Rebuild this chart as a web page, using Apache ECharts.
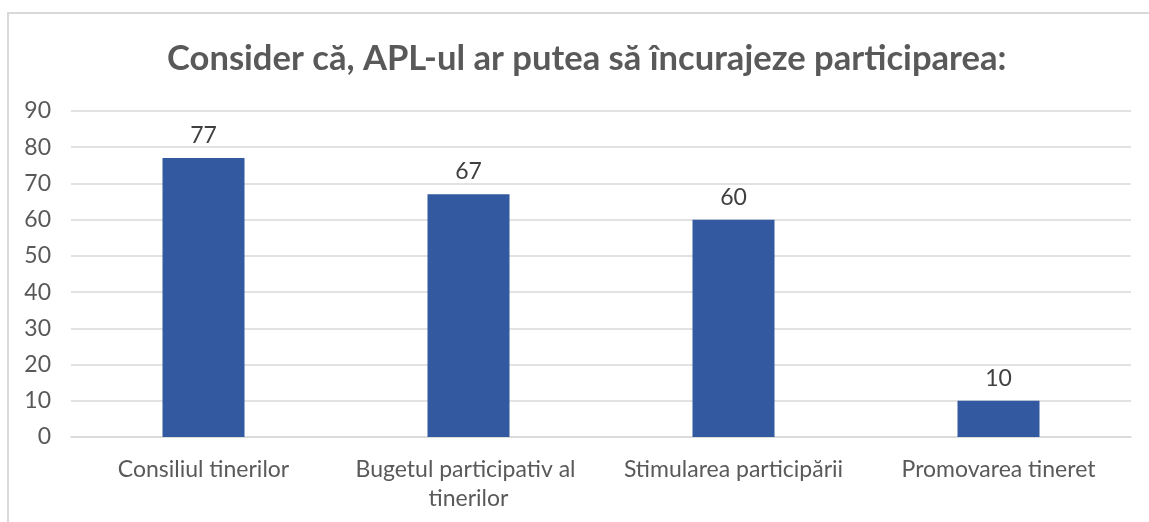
<!DOCTYPE html>
<html>
<head>
<meta charset="utf-8">
<script src="https://cdn.jsdelivr.net/npm/echarts@6/dist/echarts.min.js"></script>
<style>
  html, body { margin: 0; padding: 0; background: #fff; }
  #chart { position: absolute; left: 0; top: 0; width: 1149px; height: 522px; }
  #frame { position: absolute; left: 7px; top: 12px; width: 1160px; height: 530px;
           border-top: 2px solid #d9d9d9; border-left: 2px solid #d9d9d9; pointer-events: none; }
</style>
</head>
<body>
<div id="chart"></div>
<div id="frame"></div>
<script>
const title = 'Consider că, APL-ul ar putea să încurajeze participarea:'
const categories = ['Consiliul tinerilor', 'Bugetul participativ al tinerilor', 'Stimularea participării', 'Promovarea tineret']
const values = [77, 67, 60, 10]
const yTicks = { min: 0, max: 90, interval: 10 }

const chart = echarts.init(document.getElementById('chart'))
const font = "Lato, 'Open Sans', sans-serif"

chart.setOption({
    animation: false,
    title: {
        text: title,
        left: 162,
        top: 36,
        textStyle: { fontFamily: font, fontSize: 34.6, fontWeight: 'bold', color: '#595959' }
    },
    grid: { left: 71, right: 18, top: 111, bottom: 85 },
    xAxis: {
        type: 'category',
        data: categories,
        axisLine: { lineStyle: { color: '#d9d9d9', width: 1.5 } },
        axisTick: { show: false },
        axisLabel: {
            color: '#595959', fontFamily: font, fontSize: 23, margin: 18,
            width: 250, overflow: 'break', lineHeight: 29, interval: 0
        }
    },
    yAxis: {
        type: 'value',
        min: yTicks.min, max: yTicks.max, interval: yTicks.interval,
        axisLine: { show: false },
        axisTick: { show: false },
        axisLabel: { color: '#595959', fontFamily: font, fontSize: 23, margin: 20 },
        splitLine: { lineStyle: { color: '#d9d9d9', width: 1.5 } }
    },
    series: [{
        type: 'bar',
        data: values,
        barWidth: 82,
        itemStyle: { color: '#335aa1' },
        label: {
            show: true, position: 'top', distance: 11,
            color: '#404040', fontFamily: font, fontSize: 23
        }
    }]
})
</script>
</body>
</html>
